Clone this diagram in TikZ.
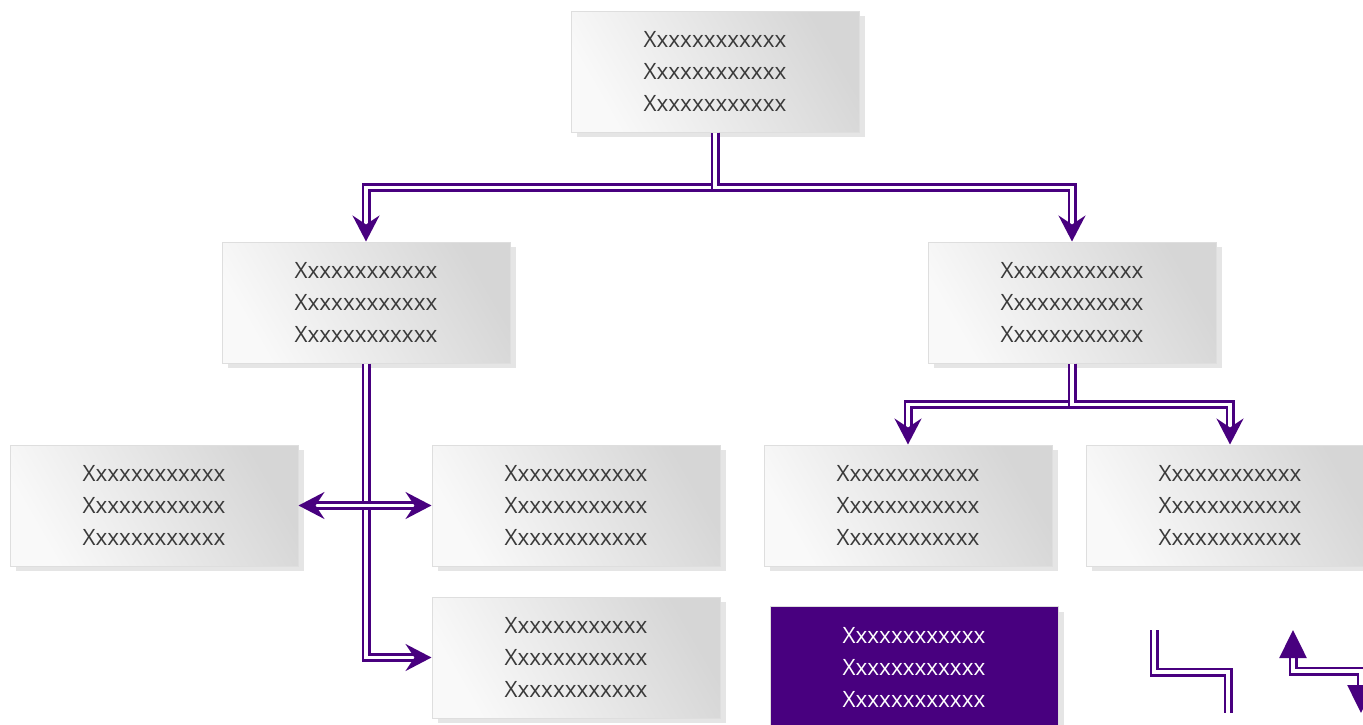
\documentclass[tikz,border=0pt]{standalone}
\usepackage{fontspec}
\setmainfont{Open Sans}
\usepackage{tikz}
\usetikzlibrary{positioning,arrows.meta,shadows}
\definecolor{indigo}{HTML}{48007F}
\definecolor{cardtop}{HTML}{D6D6D6}
\definecolor{cardbot}{HTML}{F9F9F9}
\definecolor{cardline}{HTML}{DEDEDE}
\definecolor{cardtext}{HTML}{3A3A3A}
\tikzset{boxbase/.style={rectangle, draw=cardline, line width=1pt, minimum width=288pt, minimum height=121pt,
 inner sep=0pt, align=center, font=\fontsize{22.5}{32}\selectfont,
 drop shadow={shadow xshift=6pt, shadow yshift=-5pt, fill=black, opacity=0.10}}}
\tikzset{card/.style={boxbase, top color=cardtop, bottom color=cardbot, shading angle=-60, text=cardtext}}
\tikzset{hilite/.style={boxbase, fill=indigo, text=white}}
\tikzset{line/.style={draw=indigo, double=white, line width=2.6pt, double distance=3.8pt}}
\tikzset{arr/.style={line, -{Stealth[length=26pt,width=27pt,inset=9pt]}}}
\tikzset{twoarr/.style={line, {Stealth[length=26pt,width=27pt,inset=9pt]}-{Stealth[length=26pt,width=27pt,inset=9pt]}}}
\tikzset{triarr/.style={line, {Triangle[length=28pt,width=27pt]}-{Triangle[length=28pt,width=27pt]}}}
\newcommand{\xtext}{Xxxxxxxxxxxx\\Xxxxxxxxxxxx\\Xxxxxxxxxxxx}

\begin{document}
\begin{tikzpicture}[x=1pt, y=-1pt]
        \useasboundingbox (0,0) rectangle (1363,724);
        \node[card] (top) at (715,71.5) {\xtext};
        \node[card, below=109pt of top, xshift=-349pt] (L) {\xtext};
        \node[card, below=109pt of top, xshift=357pt]  (R) {\xtext};
        \node[card, below=81pt of L, xshift=-212pt] (La) {\xtext};
        \node[card, below=81pt of L, xshift=210pt]  (Lb) {\xtext};
        \node[card, below=81pt of R, xshift=-164pt] (Ra) {\xtext};
        \node[card, below=81pt of R, xshift=158pt]  (Rb) {\xtext};
        \node[card, below=30pt of Lb] (Lc) {\xtext};
        \node[hilite, right=49pt of Lc, yshift=-9.5pt] (P) {\xtext};
        \coordinate (s1) at (1154,630);
        \coordinate (s2) at (1228,713);
        \coordinate (t1) at (1293,630);
        \coordinate (t2) at (1361,713);
        \path[arr] (top.south) -- ++(0,55) -| (L);
        \path[arr] (top.south) -- ++(0,55) -| (R);
        \path[arr] (L) |- (Lc);
        \path[twoarr] (La) -- (Lb);
        \path[arr] (R.south) -- ++(0,41) -| (Ra);
        \path[arr] (R.south) -- ++(0,41) -| (Rb);
        \path[line] (s1) -- ++(0,42) -| (s2);
        \path[triarr] (t1) -- ++(0,41) -| (t2);
\end{tikzpicture}
\end{document}
